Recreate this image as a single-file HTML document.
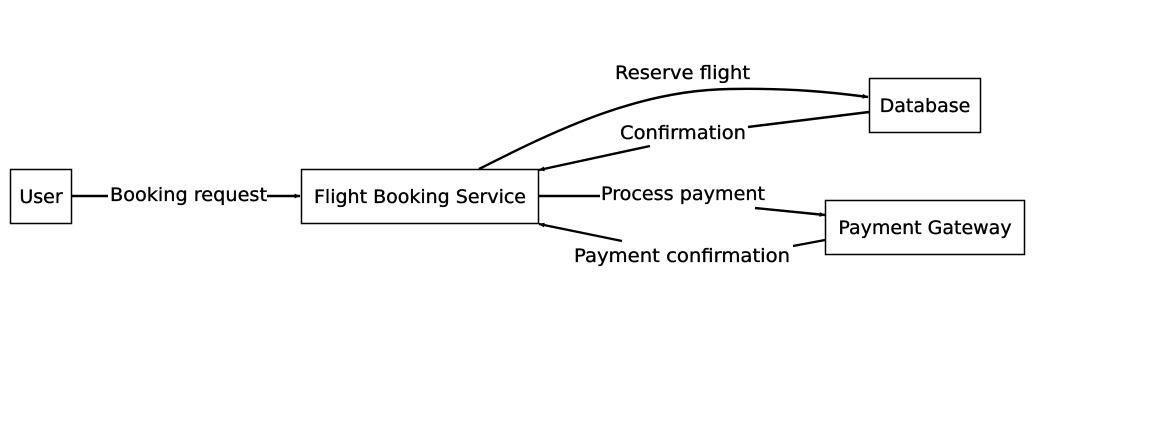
<!DOCTYPE html>
<html><head><meta charset="utf-8"><style>
html,body{margin:0;padding:0;background:#fff;}
svg{display:block;}
text{font-family:"DejaVu Sans","Liberation Sans",sans-serif;font-size:19px;fill:#000;stroke:#000;stroke-width:0.35;}
</style></head><body>
<svg width="1170" height="438" viewBox="0 0 1170 438" xmlns="http://www.w3.org/2000/svg">
<defs>
<marker id="a" viewBox="0 0 10 10" refX="9" refY="5" markerWidth="8" markerHeight="6" orient="auto" markerUnits="userSpaceOnUse">
<path d="M0,1 L10,5 L0,9 z" fill="#000"/></marker>
</defs>
<g fill="#fff" stroke="#000" stroke-width="1.5">
<rect x="10.5" y="169.5" width="61" height="54"/>
<rect x="301.5" y="169.5" width="237" height="54"/>
<rect x="869.5" y="78.5" width="111" height="54"/>
<rect x="825.5" y="200.5" width="199" height="54"/>
</g>
<text x="41" y="203" text-anchor="middle">User</text>
<text x="420" y="203" text-anchor="middle">Flight Booking Service</text>
<text x="925" y="112" text-anchor="middle">Database</text>
<text x="925" y="234" text-anchor="middle">Payment Gateway</text>
<g stroke="#000" stroke-width="2.4" fill="none">
<line x1="72" y1="196" x2="108" y2="196"/>
<line x1="267" y1="196" x2="300" y2="196" marker-end="url(#a)"/>
<path d="M479,169 C560,128 640,90 730,89 C790,88 830,92 868,97" marker-end="url(#a)"/>
<line x1="869" y1="112" x2="748" y2="127"/>
<line x1="650" y1="146" x2="539" y2="170" marker-end="url(#a)"/>
<line x1="539" y1="196" x2="600" y2="196"/>
<line x1="755" y1="208" x2="825" y2="215" marker-end="url(#a)"/>
<line x1="825" y1="240" x2="793" y2="246"/>
<line x1="622" y1="241" x2="539" y2="224" marker-end="url(#a)"/>
</g>
<text x="110" y="201" textLength="157" lengthAdjust="spacingAndGlyphs">Booking request</text>
<text x="615" y="79" textLength="135" lengthAdjust="spacingAndGlyphs">Reserve flight</text>
<text x="620" y="139" textLength="126" lengthAdjust="spacingAndGlyphs">Confirmation</text>
<text x="601" y="200" textLength="164" lengthAdjust="spacingAndGlyphs">Process payment</text>
<text x="574" y="262" textLength="216" lengthAdjust="spacingAndGlyphs">Payment confirmation</text>
</svg>
</body></html>
